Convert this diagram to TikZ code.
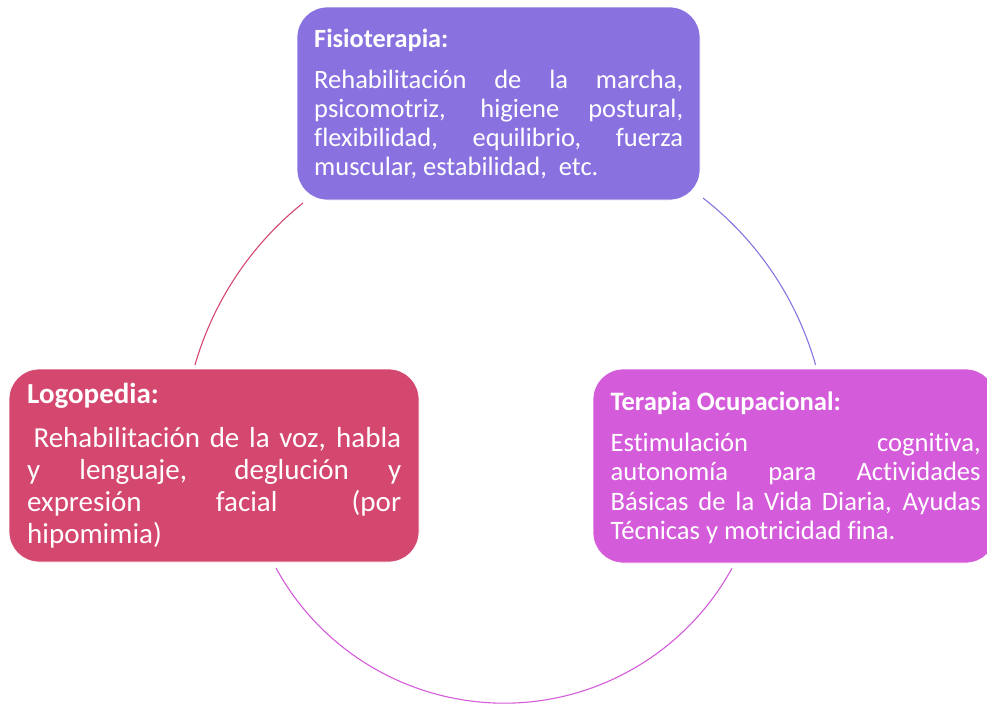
\documentclass[tikz,border=0pt]{standalone}
\usepackage{fontspec}
\setmainfont[Ligatures={NoCommon,NoRare,NoContextual}]{Carlito}
\definecolor{fisio}{HTML}{8972E0}
\definecolor{logo}{HTML}{D4476F}
\definecolor{terap}{HTML}{D45BDA}
\begin{document}
\begin{tikzpicture}[x=1pt,y=-1pt,
  boxshape/.style={rectangle, rounded corners=30pt, draw=white, line width=0.8pt, inner sep=0pt},
  titletext/.style={anchor=base west, inner sep=0pt, text=white},
  bodytext/.style={anchor=base west, inner sep=0pt, text=white},
  ring/.style={line width=1.1pt}]
\useasboundingbox (0,0) rectangle (987,704);
\clip (0,0) rectangle (987,704);

% boxes
\node[boxshape, fill=fisio, minimum width=403, minimum height=193] (fisbox) at (498.5,103.5) {};
\node[boxshape, fill=logo, minimum width=410, minimum height=193] (logbox) at (214,465.5) {};
\node[boxshape, fill=terap, minimum width=403, minimum height=194] (terbox) at (794.5,466) {};

% Fisioterapia
\node[titletext, font=\fontsize{26.3}{29}\selectfont\bfseries] (fistitle) at (314,47) {Fisioterapia:};
\node[bodytext, font=\fontsize{26.5}{29}\selectfont] (fisbody) at (314,88.3) {\parbox[t]{369pt}{%
\makebox[369pt][s]{Rehabilitación de la marcha,}\\
\makebox[369pt][s]{psicomotriz, higiene postural,}\\
\makebox[369pt][s]{flexibilidad, equilibrio, fuerza}\\
muscular, estabilidad,\ \ etc.}};

% Logopedia
\node[titletext, font=\fontsize{29}{31.9}\selectfont\bfseries] (logtitle) at (27,403.3) {Logopedia:};
\node[bodytext, font=\fontsize{29}{31.9}\selectfont] (logbody) at (27,447.7) {\parbox[t]{374pt}{%
\hspace*{6.3pt}\makebox[367.7pt][s]{Rehabilitación de la voz, habla}\\
\makebox[374pt][s]{y lenguaje, deglución y}\\
\makebox[374pt][s]{expresión facial (por}\\
hipomimia)}};

% Terapia Ocupacional
\node[titletext, font=\fontsize{26.6}{29.4}\selectfont\bfseries] (tertitle) at (610.5,410) {Terapia Ocupacional:};
\node[bodytext, font=\fontsize{26.6}{29.4}\selectfont] (terbody) at (610.5,451.5) {\parbox[t]{370pt}{%
\makebox[370pt][s]{Estimulación cognitiva,}\\
\makebox[370pt][s]{autonomía para Actividades}\\
\makebox[370pt][s]{Básicas de la Vida Diaria, Ayudas}\\
Técnicas y motricidad fina.}};

% cycle arcs
\coordinate (arcTL) at (303,203);
\coordinate (arcTR) at (703,198);
\coordinate (arcB) at (276,568);
\draw[ring, draw=logo] (arcTL) arc[start angle=128.7, end angle=163.9, radius=322pt];
\draw[ring, draw=fisio] (arcTR) arc[start angle=52.1, end angle=15.9, radius=324pt];
\draw[ring, draw=terap] (arcB) arc[start angle=208.7, end angle=331.2, radius=260pt];
\end{tikzpicture}
\end{document}
